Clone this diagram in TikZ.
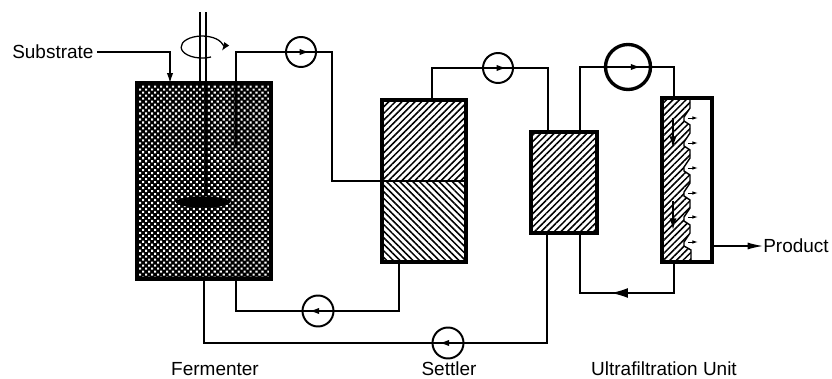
\documentclass[tikz,border=0pt]{standalone}
\usepackage{fontspec}
\setmainfont{Liberation Sans}
\usetikzlibrary{arrows.meta,patterns.meta,calc,shapes.geometric}
\tikzset{
	pipe/.style={line width=0.9pt},
	flowtip/.style={line width=0.9pt, -{Latex[length=7pt,width=4.5pt]}},
	vessel/.style={draw, line width=2.2pt, minimum width=#1, inner sep=0pt, outer sep=0pt},
	pump/.style={draw, circle, line width=1.4pt, minimum size=#1, inner sep=0pt, outer sep=0pt},
	label/.style={font=\fontsize{13.5}{16}\selectfont, inner sep=0pt}
}
\begin{document}
\begin{tikzpicture}[x=0.025cm,y=-0.025cm]
	\useasboundingbox (0,0) rectangle (832,379);
	% hatched bodies first
	\fill[black] (137,83) rectangle (271,279);
	\fill[pattern={Dots[angle=45,distance=3pt,radius=1.05pt]}, pattern color=white] (137,83) rectangle (271,279);
	\fill[pattern={Lines[angle=45,distance=3.3pt,line width=1.1pt]}] (382,100) rectangle (466,182);
	\fill[pattern={Lines[angle=-45,distance=3.3pt,line width=1.1pt]}] (382,182) rectangle (466,262);
	\fill[pattern={Lines[angle=45,distance=3.3pt,line width=1.1pt]}] (531,132) rectangle (597,233);
	\draw[line width=1pt, pattern={Lines[angle=45,distance=3.3pt,line width=1.1pt]}] (662,98) -- (690,98)
		-- (690,108) -- (684,117) -- (684,121)
		-- (690,125) -- (690,133) -- (684,142) -- (684,146)
		-- (690,150) -- (690,158) -- (684,167) -- (684,171)
		-- (690,175) -- (690,183) -- (684,192) -- (684,196)
		-- (690,200) -- (690,208) -- (684,217) -- (684,221)
		-- (690,225) -- (690,233) -- (684,242) -- (684,246)
		-- (691,250) -- (691,262) -- (662,262) -- cycle;
	% vessels
	\node[vessel=134*0.025cm, minimum height=196*0.025cm] (fermenter) at (204,181) {};
	\node[vessel=84*0.025cm, minimum height=162*0.025cm] (settler) at (424,181) {};
	\node[vessel=66*0.025cm, minimum height=101*0.025cm] (ufin) at (564,182.5) {};
	\node[vessel=50*0.025cm, minimum height=164*0.025cm] (ufout) at (687,180) {};
	% pumps
	\node[pump=30*0.025cm] (pumpA) at (301,52) {};
	\node[pump=30*0.025cm] (pumpB) at (498,68) {};
	\node[pump=45*0.025cm, line width=2.4pt] (pumpC) at (628,67) {};
	\node[pump=31*0.025cm] (pumpD) at (318,311) {};
	\node[pump=31*0.025cm] (pumpE) at (448,343) {};
	% pipes, pump by pump
	\coordinate (feedtop) at (236,83);
	\draw[pipe] (feedtop) |- (pumpA.west);
	\draw[line width=2pt] (feedtop) -- (236,146);
	\draw[pipe] (pumpA.east) -- (332,52) |- (settler.west);
	\draw[pipe] (settler.west) -- (settler.east);
	\coordinate (settlertop) at (432,100);
	\draw[pipe] (settlertop) |- (pumpB.west);
	\coordinate (ufintop) at (548,132);
	\draw[pipe] (pumpB.east) -| (ufintop);
	\coordinate (uftop) at (580,132);
	\draw[pipe] (uftop) |- (pumpC.west);
	\coordinate (ufouttop) at (674,98);
	\draw[pipe] (pumpC.east) -| (ufouttop);
	\coordinate (ufoutbot) at (674,262);
	\coordinate (ufinbot) at (580,233);
	\coordinate (retentate) at (674,293);
	\draw[pipe] (ufoutbot) -- (retentate) -- (580,293) -- (ufinbot);
	\coordinate (rettip) at (611,293);
	\draw[flowtip, -{Latex[length=12pt,width=7pt]}] (retentate) -- (rettip);
	\coordinate (settlerbot) at (399,262);
	\draw[pipe] (settlerbot) |- (pumpD.east);
	\coordinate (fermbotA) at (236,279);
	\draw[pipe] (pumpD.west) -| (fermbotA);
	\coordinate (ufbleed) at (547,233);
	\draw[pipe] (ufbleed) |- (pumpE.east);
	\coordinate (fermbotB) at (204,279);
	\draw[pipe] (pumpE.west) -| (fermbotB);
	\foreach \p/\a/\b in {pumpA/west/east, pumpB/west/east, pumpC/west/east, pumpD/east/west, pumpE/east/west} {
		\draw[pipe] (\p.\a) -- (\p.\b);
		\draw[flowtip] (\p.\a) -- ($(\p.\a)!0.78!(\p.\b)$);
	}
	% stirrer
	\coordinate (shaftL) at (200,83);
	\coordinate (shaftR) at (206,83);
	\draw[pipe, line width=1pt] (shaftL) -- (200,12);
	\draw[pipe, line width=1pt] (shaftR) -- (206,12);
	\node[draw, fill=black, ellipse, minimum width=54*0.025cm, minimum height=11*0.025cm, inner sep=0pt, line width=0.2pt] (impeller) at (203,202) {};
	\draw[line width=1.4pt] (shaftR) -- (impeller.north -| shaftR);
	\draw[pipe, -{Latex[length=6pt,width=4.5pt]}] (211,57) arc[start angle=-65, end angle=-380, x radius=21, y radius=-11] ;
	% membrane
	\foreach \i in {118,143,168,193,217,242} {
		\draw[line width=0.7pt, -{Latex[length=4pt,width=2.5pt]}] (688,\i) -- (698,\i);
	}
	\draw[line width=1.6pt, -{Latex[length=9pt,width=5pt]}] (673,118) -- (673,149);
	\draw[line width=1.6pt, -{Latex[length=9pt,width=5pt]}] (673,201) -- (673,231);
	% labels
	\node[label, anchor=west] (substrate) at (12,52) {Substrate};
	\coordinate (feedin) at (170,83);
	\draw[flowtip] (substrate.east) ++(3,0) -| (feedin);
	\node[label, anchor=west] (product) at (763,246) {Product};
	\coordinate (prodout) at (712,246);
	\draw[flowtip, -{Latex[length=11pt,width=5pt]}] (prodout) -- (product.west);
	\node[label] (fermlabel) at (215,369) {Fermenter};
	\node[label] (setlabel) at (449,369) {Settler};
	\node[label] (uflabel) at (664,369) {Ultrafiltration Unit};
\end{tikzpicture}
\end{document}
